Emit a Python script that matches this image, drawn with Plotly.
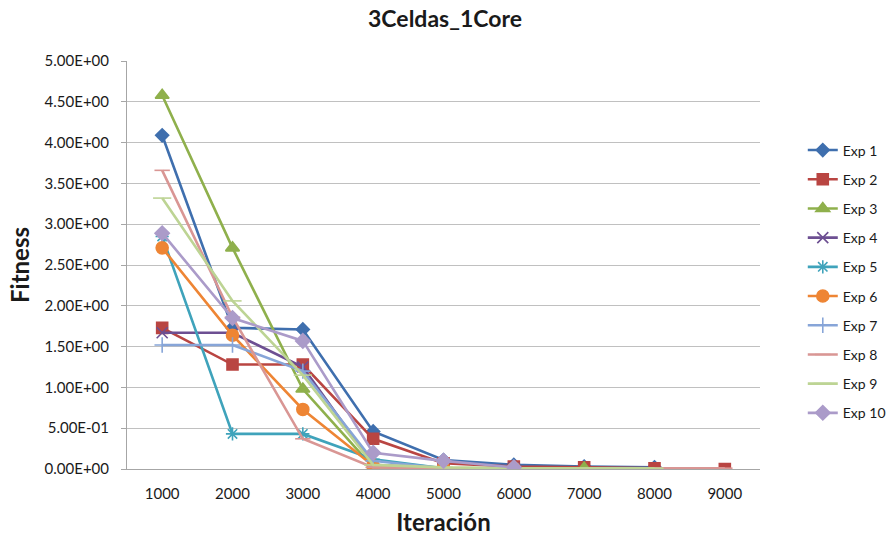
import plotly.graph_objects as go

iterations = [1000, 2000, 3000, 4000, 5000, 6000, 7000, 8000, 9000]
series_names = ["Exp 1", "Exp 2", "Exp 3", "Exp 4", "Exp 5", "Exp 6", "Exp 7", "Exp 8", "Exp 9", "Exp 10"]

exp1 = [4.09, 1.73, 1.71, 0.46, 0.11, 0.05, 0.03, 0.02]
exp2 = [1.73, 1.28, 1.28, 0.37, 0.07, 0.03, 0.02, 0.01, 0.0]
exp3 = [4.58, 2.71, 0.98, 0.02, 0.01, 0.01, 0.01]
exp4 = [1.67, 1.67, 1.25, 0.05, 0.01, 0.01]
exp5 = [2.85, 0.43, 0.43, 0.12, 0.01, 0.01]
exp6 = [2.71, 1.64, 0.73, 0.04, 0.01, 0.01]
exp7 = [1.52, 1.52, 1.20, 0.10, 0.01, 0.01]
exp8 = [3.66, 1.86, 0.37, 0.02, 0.01, 0.01, 0.01, 0.01, 0.01]
exp9 = [3.32, 2.06, 1.15, 0.05, 0.02, 0.01, 0.01, 0.01]
exp10 = [2.89, 1.85, 1.57, 0.20, 0.10, 0.02]

y_ticks = [0.0, 0.5, 1.0, 1.5, 2.0, 2.5, 3.0, 3.5, 4.0, 4.5, 5.0]

all_series = [exp1, exp2, exp3, exp4, exp5, exp6, exp7, exp8, exp9, exp10]
colors = ["#3F6FAE", "#B94542", "#8FB04C", "#6D4F92", "#3FA3BB", "#EE8534",
          "#87A5D8", "#D99694", "#BDD494", "#AB9BC9"]
symbols = ["diamond", "square", "triangle-up", "x-thin-open", "asterisk-open", "circle",
           "cross-thin-open", "line-ew-open", "line-ew-open", "diamond"]
sizes = [10, 11, 12, 11, 11, 12, 11, 11, 13, 11]

fig = go.Figure()
for i, (name, vals) in enumerate(zip(series_names, all_series)):
    fig.add_trace(go.Scatter(
        x=iterations[:len(vals)], y=vals, name=name, mode="lines+markers",
        line=dict(color=colors[i], width=2.6),
        marker=dict(symbol=symbols[i], size=sizes[i], color=colors[i],
                    line=dict(color=colors[i], width=1.6)),
        legendgroup=name,
    ))

fig.update_layout(
    width=890, height=536,
    paper_bgcolor="white", plot_bgcolor="white",
    margin=dict(l=127, r=130, t=61, b=67),
    font=dict(family="Lato, 'Open Sans', sans-serif", size=15, color="#1a1a1a"),
    title=dict(text="<b>3Celdas_1Core</b>", x=0.5, xanchor="center", y=0.965, yanchor="middle",
               font=dict(size=23)),
    xaxis=dict(
        range=[500, 9500], tickvals=iterations, ticktext=[str(v) for v in iterations],
        showgrid=False, showline=True, linecolor="#A6A6A6", linewidth=1, ticks="",
        zeroline=False, tickfont=dict(size=15), ticklabelstandoff=11, automargin=False,
        title=dict(text="<b>Iteración</b>", font=dict(size=24), standoff=14),
    ),
    yaxis=dict(
        range=[0, 5], tickvals=y_ticks, ticktext=[f"{v:.2E}" for v in y_ticks],
        showgrid=True, gridcolor="#C0C0C0", gridwidth=1,
        showline=True, linecolor="#A6A6A6", linewidth=1, ticks="outside",
        ticklen=5, tickcolor="#A6A6A6", zeroline=False, tickfont=dict(size=15),
        ticklabelstandoff=9, automargin=False,
        title=dict(text="<b>Fitness</b>", font=dict(size=24), standoff=8),
    ),
    legend=dict(xref="container", yref="paper", x=0.902, y=0.82,
                xanchor="left", yanchor="top",
                font=dict(size=14), tracegroupgap=8, traceorder="grouped",
                bgcolor="rgba(0,0,0,0)", borderwidth=0),
    showlegend=True,
)

fig.write_html("out.html")
